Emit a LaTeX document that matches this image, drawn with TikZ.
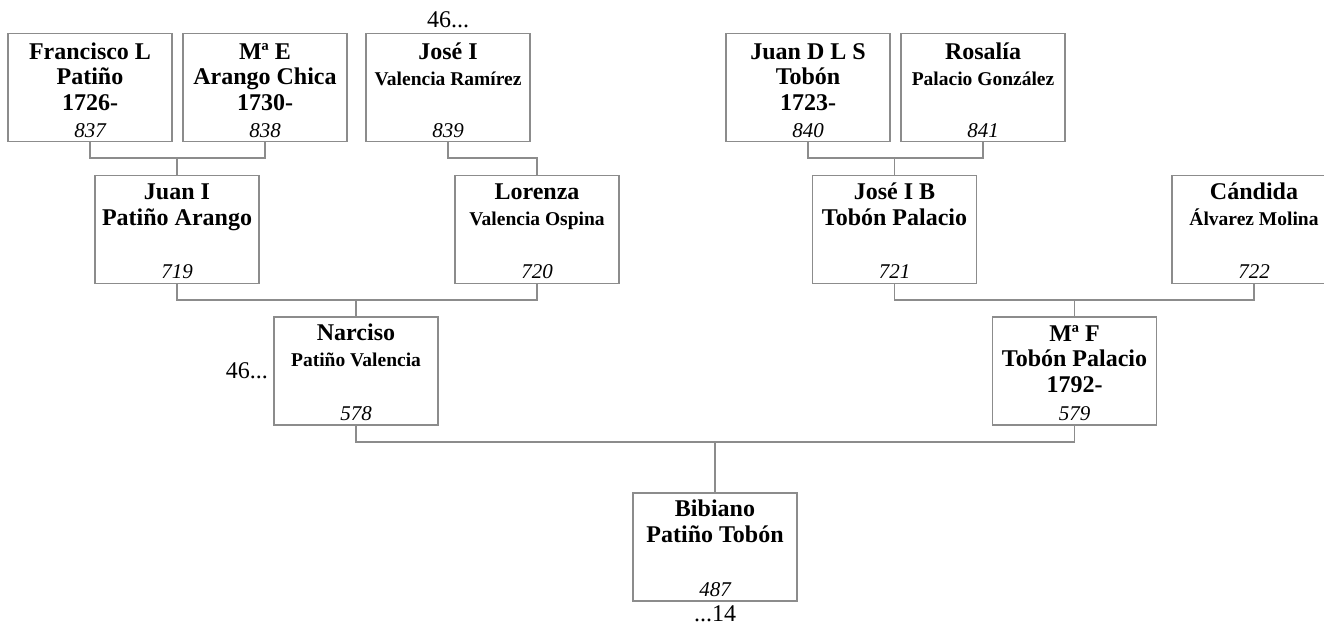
\documentclass[tikz,border=0pt]{standalone}
\usepackage{fontspec}
\setmainfont{Liberation Serif}
\begin{document}
\begin{tikzpicture}[x=1pt, y=-1pt,
  pbox/.style={draw=black!45, line width=1.3pt, minimum width=164pt, minimum height=108pt, inner sep=0pt},
  ptext/.style={anchor=base, align=center, inner sep=0pt, font=\fontsize{24}{25.5}\selectfont\bfseries},
  pnum/.style={anchor=base, inner sep=0pt, font=\fontsize{21}{24}\selectfont\itshape},
  pnote/.style={anchor=base, inner sep=0pt, font=\fontsize{24}{26}\selectfont},
  plink/.style={draw=black!45, line width=1.3pt}]
\useasboundingbox (0,0) rectangle (1324,626);
\node[pbox] (p837) at (90,87.5) {};
\node[pbox] (p838) at (265,87.5) {};
\node[pbox] (p839) at (448,87.5) {};
\node[pbox] (p840) at (808,87.5) {};
\node[pbox] (p841) at (983,87.5) {};
\node[pbox] (p719) at (177,229.5) {};
\node[pbox] (p720) at (537,229.5) {};
\node[pbox] (p721) at (894.5,229.5) {};
\node[pbox] (p722) at (1254,229.5) {};
\node[pbox] (p578) at (356,371) {};
\node[pbox] (p579) at (1074.5,371) {};
\node[pbox] (p487) at (715,547) {};
\node[ptext] (t837) at (90,110) {Francisco L\\Patiño\\1726-};
\node[ptext] (t838) at (265,110) {Mª E\\Arango Chica\\1730-};
\node[ptext] (t839) at (448,85) {José I\\{\fontsize{19.5}{25.5}\selectfont Valencia Ramírez}};
\node[ptext] (t840) at (808,110) {Juan D L S\\Tobón\\1723-};
\node[ptext] (t841) at (983,85) {Rosalía\\{\fontsize{19.5}{25.5}\selectfont Palacio González}};
\node[ptext] (t719) at (177,225) {Juan I\\Patiño Arango};
\node[ptext] (t720) at (537,225) {Lorenza\\{\fontsize{19.5}{25.5}\selectfont Valencia Ospina}};
\node[ptext] (t721) at (894.5,225) {José I B\\Tobón Palacio};
\node[ptext] (t722) at (1254,225) {Cándida\\{\fontsize{19.5}{25.5}\selectfont Álvarez Molina}};
\node[ptext] (t578) at (356,366) {Narciso\\{\fontsize{19.5}{25.5}\selectfont Patiño Valencia}};
\node[ptext] (t579) at (1074.5,392) {Mª F\\Tobón Palacio\\1792-};
\node[ptext] (t487) at (715,542) {Bibiano\\Patiño Tobón};
\node[pnum] (n837) at (90,137) {837};
\node[pnum] (n838) at (265,137) {838};
\node[pnum] (n839) at (448,137) {839};
\node[pnum] (n840) at (808,137) {840};
\node[pnum] (n841) at (983,137) {841};
\node[pnum] (n719) at (177,278) {719};
\node[pnum] (n720) at (537,278) {720};
\node[pnum] (n721) at (894.5,278) {721};
\node[pnum] (n722) at (1254,278) {722};
\node[pnum] (n578) at (356,420) {578};
\node[pnum] (n579) at (1074.5,420) {579};
\node[pnum] (n487) at (715,596) {487};
\node[pnote] (u839) at (448,28) {46...};
\node[pnote, anchor=base east] (u578) at (268,378) {46...};
\node[pnote] (d487) at (715,621) {...14};
\coordinate (j719) at (p719.north |- 0,158);
\coordinate (j720) at (p720.north |- 0,158);
\coordinate (j721) at (p721.north |- 0,158);
\coordinate (j578) at (p578.north |- 0,300);
\coordinate (j579) at (p579.north |- 0,300);
\coordinate (j487) at (p487.north |- 0,442);
\draw[plink] (p837.south) |- (j719) -| (p838.south);
\draw[plink] (j719) -- (p719.north);
\draw[plink] (p839.south) |- (j720) -- (p720.north);
\draw[plink] (p840.south) |- (j721) -| (p841.south);
\draw[plink] (j721) -- (p721.north);
\draw[plink] (p719.south) |- (j578) -| (p720.south);
\draw[plink] (j578) -- (p578.north);
\draw[plink] (p721.south) |- (j579) -| (p722.south);
\draw[plink] (j579) -- (p579.north);
\draw[plink] (p578.south) |- (j487) -| (p579.south);
\draw[plink] (j487) -- (p487.north);
\end{tikzpicture}
\end{document}
